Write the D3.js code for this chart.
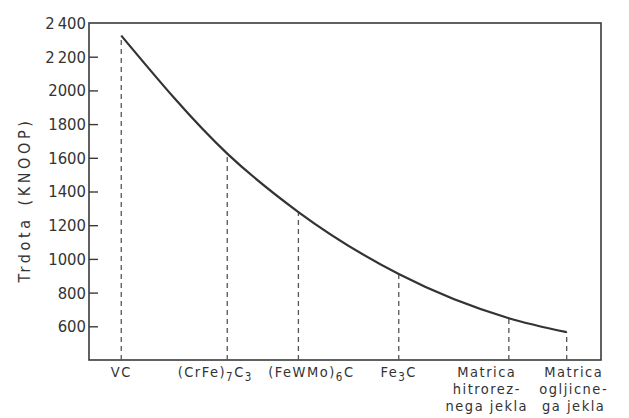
<!DOCTYPE html>
<html>
<head>
<meta charset="utf-8">
<script src="https://cdn.jsdelivr.net/npm/d3@7"></script>
<style>
  html, body { margin: 0; padding: 0; background: #fff; }
  svg { display: block; }
  text { font-family: "DejaVu Sans Condensed", "DejaVu Sans", sans-serif; font-stretch: condensed; fill: #333; }
</style>
</head>
<body>
<svg id="chart" width="629" height="418"></svg>
<script>
// ---- data ----
const categories = ["VC", "(CrFe)7C3", "(FeWMo)6C", "Fe3C", "Matrica hitrorez-nega jekla", "Matrica ogljicne-ga jekla"];
// label lines with subscript markup: [text, isSubscript]
const categoryLabels = [
  [[["VC", false]]],
  [[["(CrFe)", false], ["7", true], ["C", false], ["3", true]]],
  [[["(FeWMo)", false], ["6", true], ["C", false]]],
  [[["Fe", false], ["3", true], ["C", false]]],
  [[["Matrica", false]], [["hitrorez-", false]], [["nega jekla", false]]],
  [[["Matrica", false]], [["ogljicne-", false]], [["ga jekla", false]]]
];
const xPosition = [6.3, 27.0, 40.9, 60.5, 82.0, 93.3];      // abscissa (relative position, 0–100)
const hardness = [2325, 1625, 1278, 910, 648, 565];          // Knoop hardness
const yTicks = [600, 800, 1000, 1200, 1400, 1600, 1800, 2000, 2200, 2400];
const yTickLabels = ["600", "800", "1000", "1200", "1400", "1600", "1800", "2000", "2\u2009200", "2\u2009400"];
const yTitle = "Trdota\u2002(KNOOP)";

// ---- layout ----
const mLeft = 89, mRight = 601, mTop = 23, mBottom = 360;
const svg = d3.select("#chart");
const x = d3.scaleLinear().domain([0, 100]).range([mLeft, mRight]);
const y = d3.scaleLinear().domain([400, 2400]).range([mBottom, mTop]);
const ink = "#3a3a3a";

// frame
svg.append("rect")
  .attr("x", mLeft).attr("y", mTop)
  .attr("width", mRight - mLeft).attr("height", mBottom - mTop)
  .attr("fill", "none").attr("stroke", ink).attr("stroke-width", 1.6);

// y axis (ticks inside)
const yAxis = d3.axisRight(y)
  .tickValues(yTicks.filter(d => d < 2400))
  .tickSize(9)
  .tickFormat("");
const gy = svg.append("g").attr("transform", `translate(${mLeft},0)`).call(yAxis);
gy.select(".domain").remove();
gy.selectAll(".tick line").attr("stroke", ink).attr("stroke-width", 1.4);

// tick labels
svg.append("g").selectAll("text")
  .data(yTicks)
  .join("text")
  .attr("x", mLeft - 3)
  .attr("y", d => y(d))
  .attr("dy", "0.36em")
  .attr("text-anchor", "end")
  .attr("font-size", 16.5)
  .text((d, i) => yTickLabels[i]);

// y title
svg.append("text")
  .attr("transform", `translate(30,200) rotate(-90)`)
  .attr("text-anchor", "middle")
  .attr("font-size", 16)
  .attr("letter-spacing", 3.6)
  .text(yTitle);

// dashed drop lines
svg.append("g").selectAll("line")
  .data(hardness)
  .join("line")
  .attr("x1", (d, i) => x(xPosition[i]))
  .attr("x2", (d, i) => x(xPosition[i]))
  .attr("y1", mBottom)
  .attr("y2", d => y(d))
  .attr("stroke", "#555")
  .attr("stroke-width", 1.3)
  .attr("stroke-dasharray", "5,4");

// curve
const pts = hardness.map((d, i) => [xPosition[i], d]);
svg.append("path")
  .datum(pts)
  .attr("fill", "none")
  .attr("stroke", "#333")
  .attr("stroke-width", 2.2)
  .attr("d", d3.line().x(d => x(d[0])).y(d => y(d[1])).curve(d3.curveMonotoneX));

// category labels (one text element per category, lines as tspans)
const labelShift = { 1: -12, 2: 13, 4: -22, 5: 7 };
const lineH = 17.2;
const lab = svg.append("g");
categoryLabels.forEach((lines, i) => {
  const cx = x(xPosition[i]) + (labelShift[i] || 0);
  const t = lab.append("text")
    .attr("x", cx)
    .attr("y", 377)
    .attr("text-anchor", "middle")
    .attr("font-size", 14.5)
    .attr("letter-spacing", 1.5);
  lines.forEach((parts, li) => {
    let shifted = false;
    parts.forEach(([s, sub], pi) => {
      const ts = t.append("tspan").text(s);
      let dy = 0;
      if (pi === 0 && li > 0) { ts.attr("x", cx); dy = lineH; }
      if (sub) {
        ts.attr("font-size", 11.5);
        dy += shifted ? 0 : 4;
        shifted = true;
      } else {
        dy += shifted ? -4 : 0;
        shifted = false;
      }
      ts.attr("dy", dy);
    });
  });
});
</script>
</body>
</html>
